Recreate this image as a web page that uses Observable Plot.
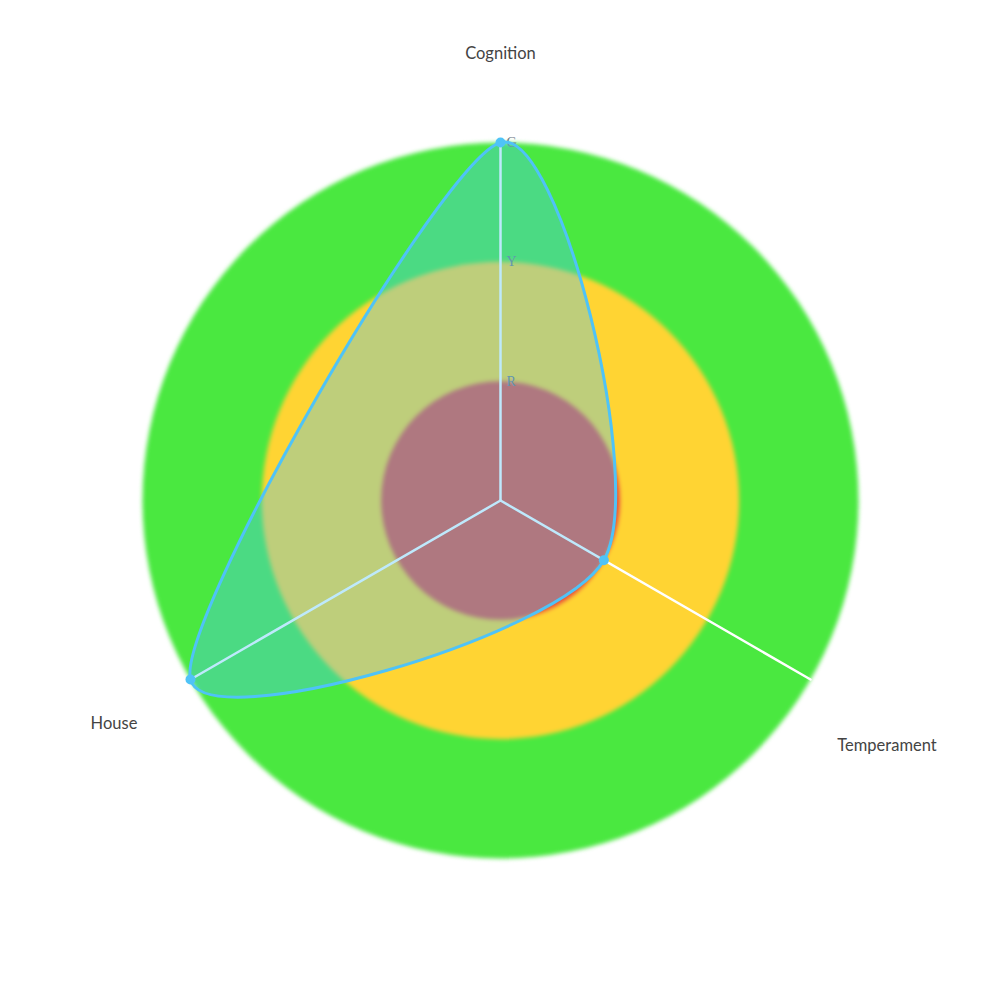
<!DOCTYPE html>
<html>
<head>
<meta charset="utf-8">
<script src="https://cdn.jsdelivr.net/npm/d3@7"></script>
<script src="https://cdn.jsdelivr.net/npm/@observablehq/plot@0.6"></script>
<style>
  html, body { margin: 0; padding: 0; background: #fff; }
  #chart { width: 1000px; height: 1000px; }
</style>
</head>
<body>
<div id="chart"></div>
<script>
// ---- data ----
const axes = ["Cognition", "Temperament", "House"];
const values = [3, 1, 3];
const bandLevels = [3, 2, 1];            // G, Y, R rings (outer to inner)
const bandColors = ["#4ae840", "#ffd433", "#e74c3c"];
const tickLabels = ["R", "Y", "G"];
const tickValues = [1, 2, 3];
const maxValue = 3;
const labelValue = 3.74;

// ---- derived table ----
const n = axes.length;
const angle = i => (2 * Math.PI * i) / n;
const pts = axes.map((a, i) => ({
  axis: a,
  value: values[i],
  x: Math.sin(angle(i)) * values[i],
  y: Math.cos(angle(i)) * values[i]
}));
const spokes = axes.flatMap((a, i) => [
  {axis: a, x: 0, y: 0},
  {axis: a, x: Math.sin(angle(i)) * maxValue, y: Math.cos(angle(i)) * maxValue}
]);
const labels = axes.map((a, i) => ({
  axis: a,
  x: Math.sin(angle(i)) * labelValue,
  y: Math.cos(angle(i)) * labelValue
}));
const bands = bandLevels.map((v, i) => ({level: v, color: bandColors[i]}));
const ticks = tickValues.map((v, i) => ({label: tickLabels[i], x: 0, y: v}));

const plot = Plot.plot({
  width: 1000,
  height: 1000,
  marginLeft: 142, marginRight: 142, marginTop: 142, marginBottom: 142,
  x: {domain: [-3, 3], axis: null},
  y: {domain: [-3, 3], axis: null},
  r: {type: "linear", domain: [0, 3], range: [0, 358]},
  style: {background: "transparent"},
  marks: [
    Plot.dot(bands, {x: () => 0, y: () => 0, r: "level", fill: "color", stroke: null}),
    Plot.line(spokes, {x: "x", y: "y", z: "axis", stroke: "#ffffff", strokeWidth: 2.5}),
    Plot.text(ticks, {x: "x", y: "y", text: "label", textAnchor: "start", dx: 6, fill: "#6e7a88", fontSize: 14, fontFamily: "Liberation Serif, serif"}),
    Plot.line(pts, {x: "x", y: "y", curve: "cardinal-closed", tension: 0.15, fill: "#4fc3f7", fillOpacity: 0.37, stroke: "#4fc3f7", strokeWidth: 3}),
    Plot.dot(pts, {x: "x", y: "y", r: 5, fill: "#4fc3f7", stroke: null}),
    Plot.text(labels.filter(d => d.axis !== "Temperament"), {x: "x", y: "y", text: "axis", fontSize: 16.5, fill: "#444", fontFamily: "Lato, sans-serif"}),
    Plot.text(labels.filter(d => d.axis === "Temperament"), {x: "x", y: "y", text: "axis", dy: 22, fontSize: 16.5, fill: "#444", fontFamily: "Lato, sans-serif"})
  ]
});
const firstDots = d3.select(plot).selectAll('g[aria-label="dot"]').nodes()[0];
if (firstDots) firstDots.style.filter = "blur(2px)";
document.getElementById("chart").appendChild(plot);
</script>
</body>
</html>
